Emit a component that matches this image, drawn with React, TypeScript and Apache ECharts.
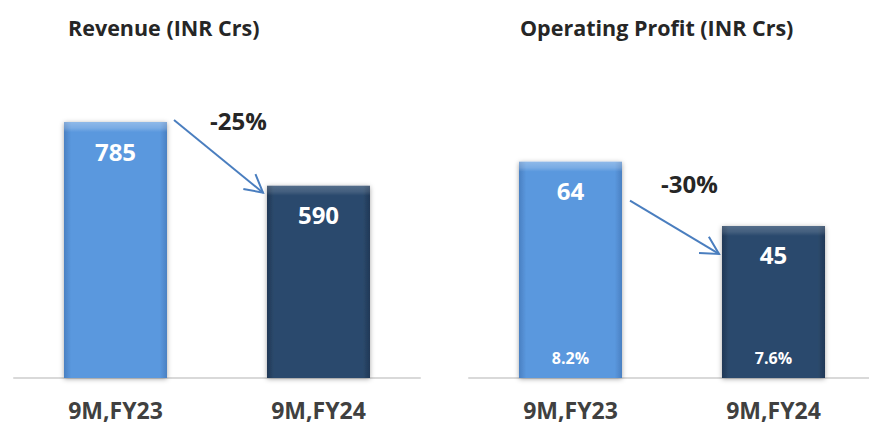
import React, { useEffect, useRef } from "react";
import * as echarts from "echarts";

const categories = ["9M,FY23", "9M,FY24"];
const revenue = [785, 590];
const operatingProfit = [64, 45];
const opMargins = ["8.2%", "7.6%"];
const changeLabels = ["-25%", "-30%"];
const titles = ["Revenue (INR Crs)", "Operating Profit (INR Crs)"];

const FONT = "'Open Sans', 'Noto Sans', sans-serif";
const BAR_W = 103;
const ARROW = "#4A7EBF";

const lightFill = new echarts.graphic.LinearGradient(0, 0, 1, 0, [
  { offset: 0, color: "#4A80C2" },
  { offset: 0.07, color: "#5A98DE" },
  { offset: 0.93, color: "#5A98DE" },
  { offset: 1, color: "#4A80C2" },
]);
const darkFill = new echarts.graphic.LinearGradient(0, 0, 1, 0, [
  { offset: 0, color: "#1F3856" },
  { offset: 0.07, color: "#2C4A6D" },
  { offset: 0.93, color: "#2C4A6D" },
  { offset: 1, color: "#1F3856" },
]);
const fills = [lightFill, darkFill];
const bevelAlpha = [0.32, 0.2];

function barData(values: number[]) {
  return values.map((v, i) => ({
    value: v,
    itemStyle: {
      color: fills[i],
      shadowColor: "rgba(0,0,0,0.35)",
      shadowBlur: 5,
      shadowOffsetY: 1,
    },
  }));
}

function bevelData(values: number[], heights: number[]) {
  return values.map((v, i) => {
    const t = Math.min(0.5, 10 / Math.max(1, heights[i]));
    const a = bevelAlpha[i];
    return {
      value: v,
      itemStyle: {
        color: new echarts.graphic.LinearGradient(0, 0, 0, 1, [
          { offset: 0, color: `rgba(255,255,255,${a})` },
          { offset: t * 0.6, color: `rgba(255,255,255,${a * 0.6})` },
          { offset: t, color: "rgba(255,255,255,0)" },
          { offset: 1, color: "rgba(255,255,255,0)" },
        ]),
      },
    };
  });
}

function arrow(x1: number, y1: number, x2: number, y2: number) {
  const ang = Math.atan2(y2 - y1, x2 - x1);
  const len = 20;
  const spread = 0.5;
  const a1 = ang + Math.PI - spread;
  const a2 = ang + Math.PI + spread;
  return [
    {
      type: "line",
      shape: { x1, y1, x2, y2 },
      style: { stroke: ARROW, lineWidth: 2 },
    },
    {
      type: "polyline",
      shape: {
        points: [
          [x2 + len * Math.cos(a1), y2 + len * Math.sin(a1)],
          [x2, y2],
          [x2 + len * Math.cos(a2), y2 + len * Math.sin(a2)],
        ],
      },
      style: { stroke: ARROW, lineWidth: 2, fill: null },
    },
  ];
}

export default function App() {
  const ref = useRef<HTMLDivElement>(null);
  useEffect(() => {
    if (!ref.current) return;
    const chart = echarts.init(ref.current, undefined, { renderer: "svg" });
    const axisCommon = {
      type: "category" as const,
      data: categories,
      axisLine: { lineStyle: { color: "#D9D9D9", width: 2 } },
      axisTick: { show: false },
      axisLabel: {
        color: "#404040",
        fontWeight: "bold" as const,
        fontSize: 23,
        fontFamily: FONT,
        margin: 20,
      },
    };
    const valueLabel = {
      show: true,
      position: "insideTop" as const,
      distance: 17,
      color: "#FFFFFF",
      fontWeight: "bold" as const,
      fontSize: 24,
      fontFamily: FONT,
    };
    const titleStyle = { fontSize: 21.5, fontWeight: "bold", color: "#262626", fontFamily: FONT };
    chart.setOption({
      animation: false,
      backgroundColor: "#FFFFFF",
      title: [
        { text: titles[0], left: 63, top: 11, textStyle: titleStyle },
        { text: titles[1], left: 515, top: 11, textStyle: titleStyle },
      ],
      grid: [
        { left: 14, width: 406, top: 52, bottom: 56, outerBoundsMode: "none" },
        { left: 469, width: 406, top: 40, bottom: 56, outerBoundsMode: "none" },
      ],
      xAxis: [
        { ...axisCommon, gridIndex: 0 },
        { ...axisCommon, gridIndex: 1 },
      ],
      yAxis: [
        { type: "value", gridIndex: 0, min: 0, max: 1000, show: false },
        { type: "value", gridIndex: 1, min: 0, max: 100, show: false },
      ],
      series: [
        {
          id: "rev",
          type: "bar",
          xAxisIndex: 0,
          yAxisIndex: 0,
          barWidth: BAR_W,
          barGap: "-100%",
          data: barData(revenue),
          label: valueLabel,
        },
        {
          id: "revBevel",
          type: "bar",
          xAxisIndex: 0,
          yAxisIndex: 0,
          barWidth: BAR_W,
          barGap: "-100%",
          silent: true,
          data: bevelData(revenue, [100, 100]),
        },
        {
          id: "op",
          type: "bar",
          xAxisIndex: 1,
          yAxisIndex: 1,
          barWidth: BAR_W,
          barGap: "-100%",
          data: barData(operatingProfit),
          label: valueLabel,
        },
        {
          id: "opBevel",
          type: "bar",
          xAxisIndex: 1,
          yAxisIndex: 1,
          barWidth: BAR_W,
          barGap: "-100%",
          silent: true,
          data: bevelData(operatingProfit, [100, 100]),
          label: {
            show: true,
            position: "insideBottom",
            distance: 12,
            color: "#FFFFFF",
            fontWeight: "bold",
            fontSize: 16,
            fontFamily: FONT,
            formatter: (p: any) => opMargins[p.dataIndex],
          },
        },
      ],
    });

    const px = (g: number, i: number, v: number) =>
      chart.convertToPixel({ xAxisIndex: g, yAxisIndex: g }, [i, v]) as number[];
    const sets = [revenue, operatingProfit];
    const heights = sets.map((vals, g) =>
      vals.map((v, i) => px(g, i, 0)[1] - px(g, i, v)[1])
    );

    const half = BAR_W / 2;
    const graphics: any[] = [];
    const offs = [
      { sx: 7, sy: -2, ex: -4, ey: 7, tx: 20, ty: -36 },
      { sx: 8, sy: 39, ex: -3, ey: 28, tx: 15, ty: -44 },
    ];
    sets.forEach((vals, g) => {
      const a = px(g, 0, vals[0]);
      const b = px(g, 1, vals[1]);
      const o = offs[g];
      const x1 = a[0] + half + o.sx;
      const y1 = a[1] + o.sy;
      const x2 = b[0] - half + o.ex;
      const y2 = b[1] + o.ey;
      graphics.push(...arrow(x1, y1, x2, y2));
      graphics.push({
        type: "text",
        x: (x1 + x2) / 2 + o.tx,
        y: (y1 + y2) / 2 + o.ty,
        style: {
          text: changeLabels[g],
          fill: "#262626",
          font: `bold 24px ${FONT}`,
          align: "center",
          verticalAlign: "middle",
        },
      });
    });
    chart.setOption({
      graphic: graphics,
      series: [
        { id: "revBevel", data: bevelData(revenue, heights[0]) },
        { id: "opBevel", data: bevelData(operatingProfit, heights[1]) },
      ],
    });

    return () => chart.dispose();
  }, []);
  return (
    <div
      ref={ref}
      style={{ position: "fixed", left: 0, top: 0, width: 869, height: 434 }}
    />
  );
}
